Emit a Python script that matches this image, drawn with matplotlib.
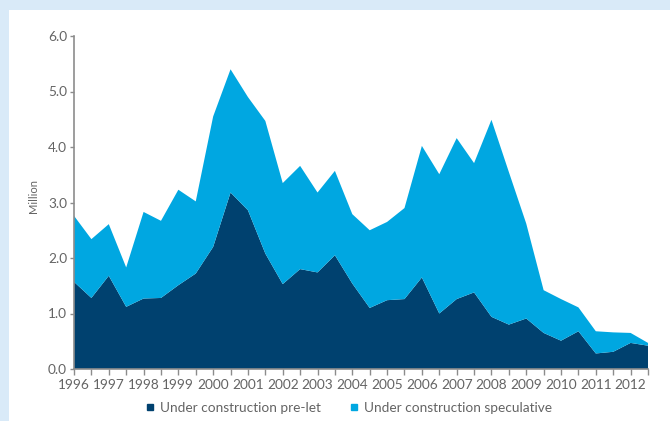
import numpy as np
import matplotlib
matplotlib.use("Agg")
import matplotlib.pyplot as plt
from matplotlib.lines import Line2D
from matplotlib.patches import Rectangle

# Half-yearly floorspace under construction (million sq ft), 1996 H1 to 2012 H2
first_year = 1996
last_year = 2012
pre_let = [1.57, 1.28, 1.68, 1.12, 1.27, 1.28, 1.51, 1.72, 2.20, 3.18,
           2.86, 2.08, 1.53, 1.80, 1.74, 2.05, 1.54, 1.10, 1.24, 1.26,
           1.65, 1.00, 1.26, 1.38, 0.94, 0.80, 0.91, 0.65, 0.51, 0.68,
           0.28, 0.31, 0.47, 0.42]
speculative = [1.19, 1.06, 0.93, 0.71, 1.56, 1.39, 1.72, 1.30, 2.35, 2.22,
               2.04, 2.39, 1.82, 1.86, 1.44, 1.52, 1.25, 1.40, 1.41, 1.64,
               2.37, 2.51, 2.90, 2.33, 3.55, 2.75, 1.71, 0.77, 0.75, 0.43,
               0.40, 0.35, 0.18, 0.05]
series_names = ["Under construction pre-let", "Under construction speculative"]
y_ticks = [0.0, 1.0, 2.0, 3.0, 4.0, 5.0, 6.0]

DARK = "#00416f"
LIGHT = "#00a7e1"
GREY = "#646464"
AXIS_GREY = "#8c8c8c"

plt.rcParams["font.family"] = ["Lato", "DejaVu Sans"]

fig = plt.figure(figsize=(6.70, 4.21), dpi=100)
fig.patch.set_facecolor("#d9eaf8")
fig.patches.append(Rectangle((9 / 670, 0), 1 - 9 / 670, 1 - 10 / 421,
                             transform=fig.transFigure, facecolor="white",
                             edgecolor="none", zorder=-5))

ax = fig.add_axes([74 / 670, 1 - 369 / 421, (648 - 74) / 670, (369 - 36) / 421])
ax.set_zorder(2)
ax.set_facecolor("none")

x = first_year + 0.5 * np.arange(len(pre_let))
ax.stackplot(x, pre_let, speculative, colors=[DARK, LIGHT], linewidth=0)

ax.set_xlim(first_year, last_year + 0.5)
ax.set_ylim(0, 6)

ax.set_xticks(x)
ax.set_xticklabels([str(int(v)) if float(v).is_integer() else "" for v in x])
ax.set_yticks(y_ticks)
ax.set_yticklabels([f"{v:.1f}" for v in y_ticks])

ax.tick_params(axis="both", colors=AXIS_GREY, labelcolor=GREY, labelsize=9.8,
               length=4, width=1, direction="out")
ax.tick_params(axis="x", pad=3)
ax.tick_params(axis="y", length=3, pad=2)

for side in ["top", "right"]:
    ax.spines[side].set_visible(False)
for side in ["left", "bottom"]:
    ax.spines[side].set_color(AXIS_GREY)
    ax.spines[side].set_linewidth(1.2)

fig.text(33 / 670, 1 - 196 / 421, "Million", rotation=90, ha="center",
         va="center", fontsize=8, color=GREY)

handles = [Line2D([], [], linestyle="none", marker="s", markersize=5,
                  markerfacecolor=c, markeredgecolor=c) for c in (DARK, LIGHT)]
leg = fig.legend(handles, series_names, loc="center", ncol=2,
                 bbox_to_anchor=(349 / 670, 1 - 408 / 421), frameon=False,
                 fontsize=9.8, labelcolor=GREY, handlelength=0.6,
                 handletextpad=0.4, columnspacing=2.2)
leg.set_zorder(3)

fig.savefig("out.png", dpi=100, facecolor=fig.get_facecolor())
